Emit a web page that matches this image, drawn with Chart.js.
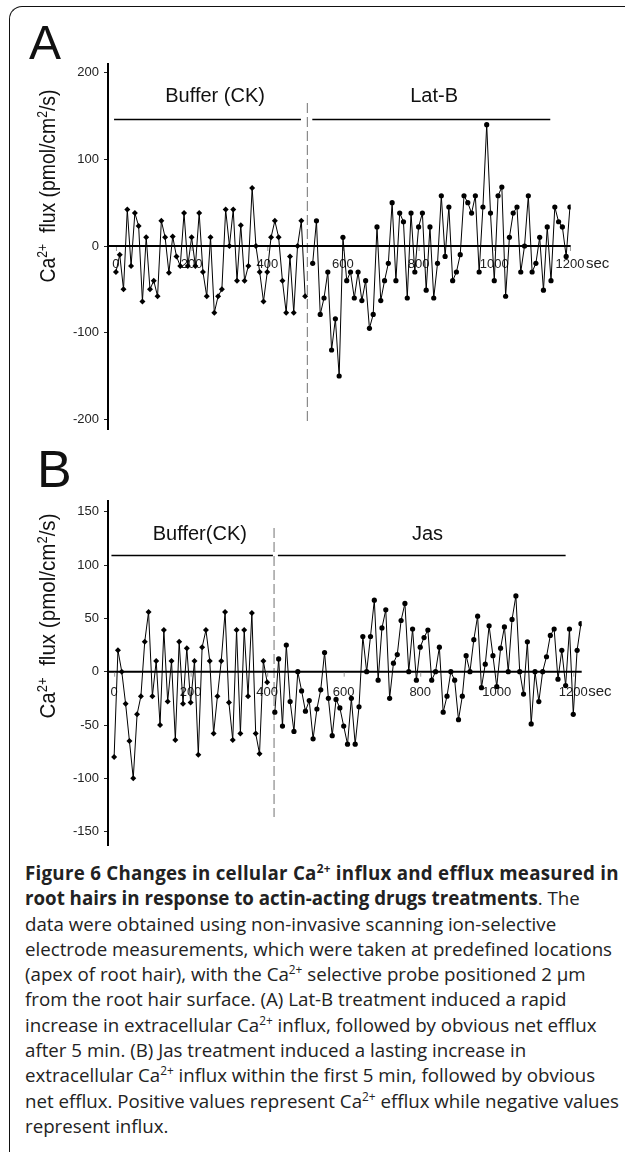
<!DOCTYPE html>
<html>
<head>
<meta charset="utf-8">
<script src="https://cdn.jsdelivr.net/npm/chart.js@4.4.1/dist/chart.umd.min.js"></script>
<style>
  html, body { margin: 0; padding: 0; background: #fff; }
  body { width: 625px; height: 1152px; position: relative; overflow: hidden; }
  .frame { position: absolute; left: 9px; top: 6px; width: 660px; height: 1200px;
           border-left: 1.5px solid #111; border-top: 1.5px solid #111; border-top-left-radius: 13px; }
  canvas { position: absolute; left: 0; }
  #caption { position: absolute; left: 25px; top: 861px; font-family: "Open Sans", sans-serif;
             font-size: 19px; line-height: 25.3px; color: #222; white-space: nowrap; transform-origin: 0 0; }
  #caption sup { font-size: 12px; line-height: 0; vertical-align: 7px; }
  #first { letter-spacing: 0.28px; }
</style>
</head>
<body>
<div class="frame"></div>
<canvas id="panelA" width="625" height="445" style="top:0"></canvas>
<canvas id="panelB" width="625" height="415" style="top:445px"></canvas>
<div id="caption">
<b id="first">Figure 6 Changes in cellular Ca<sup>2+</sup> influx and efflux measured in</b><br>
<b>root hairs in response to actin-acting drugs treatments</b>. The<br>
data were obtained using non-invasive scanning ion-selective<br>
<span id="widest">electrode measurements, which were taken at predefined locations</span><br>
(apex of root hair), with the Ca<sup>2+</sup> selective probe positioned 2 μm<br>
from the root hair surface. (A) Lat-B treatment induced a rapid<br>
increase in extracellular Ca<sup>2+</sup> influx, followed by obvious net efflux<br>
after 5 min. (B) Jas treatment induced a lasting increase in<br>
extracellular Ca<sup>2+</sup> influx within the first 5 min, followed by obvious<br>
net efflux. Positive values represent Ca<sup>2+</sup> efflux while negative values<br>
represent influx.
</div>
<script>
// sampling every 10 s, one sample skipped when the drug is added
const stepSec = 10;
const xTicks = [0, 200, 400, 600, 800, 1000, 1200];

// panel A : buffer (0-500 s) then Lat-B (520-1200 s)
const startA_buffer = 0;
const startA_latB = 520;
const fluxA_buffer = [-30, -10, -50, 42, -23, 38, 23, -64, 10, -50,
  -40, -58, 29, 10, -31, 11, -12, -23, 38, -23,
  10, -23, 38, -30, -58, 10, -77, -58, -50, 42,
  0, 42, -40, 24, -40, -23, 67, 0, -30, -64,
  -30, 10, 29, 10, -40, -77, -12, -77, 0, 29, -58];
const fluxA_latB = [-20, 29, -79, -60, -30, -120, -84, -150, 10, -40,
  -30, -60, -30, -63, -40, -95, -79, 22, -63, -40,
  -20, 50, -40, 38, 28, -60, 38, -30, 22, 38,
  -51, 22, -60, -20, 58, -12, 45, -40, -30, -10,
  58, 50, 38, 58, -30, 45, 140, 38, -40, 58,
  68, -58, 10, 38, 45, -30, 0, 58, -30, -20,
  10, -51, 22, -40, 45, 28, 22, -12, 45];
const yTicksA = [-200, -100, 0, 100, 200];

// panel B : buffer (0-400 s) then Jas (420-1220 s)
const startB_buffer = 0;
const startB_jas = 420;
const fluxB_buffer = [-80, 20, 0, -30, -65, -100, -40, -23, 28, 56,
  -23, 10, -50, 39, -28, 10, -64, 28, -30, 22,
  -29, 10, -78, 23, 39, 10, -58, -23, 10, 56,
  -29, -64, 39, -58, 39, -23, 55, -58, -77, 10, -10];
const fluxB_jas = [-38, 12, -51, 25, -28, -56, 0,
  -18, -37, -27, -63, -35, -17, 18, -25, -60, -26,
  -34, -51, -68, -25, -68, -33, 33, 0, 33, 67,
  -8, 41, 58, -25, 8, 16, 48, 64, 0, 40,
  -8, 23, 32, 39, -8, 0, 23, -38, -23, 0,
  -8, -45, -23, 15, 0, 30, 52, -15, 7, 43,
  15, -14, 22, 42, 0, 49, 71, 0, -21, 28,
  -49, 0, -28, 0, 14, 34, 40, -7, 20, -13,
  40, -40, 20, 45];
const yTicksB = [-150, -100, -50, 0, 50, 100, 150];

const toPoints = (vals, start) => vals.map((v, i) => ({ x: start + i * stepSec, y: v }));

// draws the zero axis, time labels, drug bars, dashed switch line, letter and y title
const decor = {
  id: 'decor',
  beforeDatasetsDraw(chart, args, o) {
    const { ctx, chartArea: a } = chart;
    const x = chart.scales.x, y = chart.scales.y;
    const y0 = y.getPixelForValue(0);
    ctx.save();

    // dashed line where the drug is added
    const dx = x.getPixelForValue(o.switchAt);
    ctx.setLineDash([10, 4]);
    ctx.strokeStyle = '#8a8a8a';
    ctx.lineWidth = 1.2;
    ctx.beginPath();
    ctx.moveTo(dx, y.getPixelForValue(o.dashTop));
    ctx.lineTo(dx, y.getPixelForValue(o.dashBottom));
    ctx.stroke();
    ctx.setLineDash([]);

    // x axis through zero
    ctx.strokeStyle = '#000';
    ctx.lineWidth = 2;
    ctx.beginPath();
    ctx.moveTo(a.left, y0);
    ctx.lineTo(a.right, y0);
    ctx.stroke();

    ctx.strokeStyle = '#999';
    ctx.lineWidth = 1;
    ctx.fillStyle = '#222';
    ctx.font = '13px "Liberation Sans", Arial, sans-serif';
    ctx.textAlign = 'center';
    ctx.textBaseline = 'alphabetic';
    xTicks.forEach(t => {
      const px = x.getPixelForValue(t);
      ctx.beginPath();
      ctx.moveTo(px + 0.5, y0 + 1);
      ctx.lineTo(px + 0.5, y0 + 5);
      ctx.stroke();
      ctx.fillText(String(t), px, y0 + o.labelBase);
    });
    ctx.textAlign = 'left';
    ctx.font = '15px "Liberation Sans", Arial, sans-serif';
    ctx.fillText('sec', x.getPixelForValue(1200) + o.secGap, y0 + o.labelBase);

    // treatment bars
    ctx.strokeStyle = '#000';
    ctx.lineWidth = 1.6;
    ctx.textAlign = 'center';
    ctx.textBaseline = 'middle';
    ctx.font = '20px "Liberation Sans", Arial, sans-serif';
    ctx.fillStyle = '#111';
    const by = Math.round(y.getPixelForValue(o.barY)) + 0.5;
    o.bars.forEach(b => {
      ctx.beginPath();
      ctx.moveTo(x.getPixelForValue(b.from), by);
      ctx.lineTo(x.getPixelForValue(b.to), by);
      ctx.stroke();
      ctx.fillText(b.label, x.getPixelForValue(b.labelAt), y.getPixelForValue(o.labelY));
    });

    // panel letter
    ctx.textAlign = 'left';
    ctx.textBaseline = 'alphabetic';
    ctx.font = o.letterSize + 'px "Liberation Sans", Arial, sans-serif';
    ctx.fillText(o.letter, o.letterX, o.letterY);

    // rotated y title with superscripts
    const t = o.title;
    const big = t.size + 'px "Liberation Sans", Arial, sans-serif';
    const small = Math.round(t.size * 0.62) + 'px "Liberation Sans", Arial, sans-serif';
    const parts = [['Ca', big, 0], ['2+', small, t.raise], ['  flux (pmol/cm', big, 0], ['2', small, t.raise], ['/s)', big, 0]];
    let total = 0;
    parts.forEach(p => { ctx.font = p[1]; total += ctx.measureText(p[0]).width; });
    ctx.translate(t.x, t.y);
    ctx.rotate(-Math.PI / 2);
    ctx.scale(t.len / total, 1);
    let cur = -total / 2;
    parts.forEach(p => {
      ctx.font = p[1];
      ctx.fillText(p[0], cur, -p[2]);
      cur += ctx.measureText(p[0]).width;
    });
    ctx.restore();
  }
};

function panel(id, cfg) {
  const fixedTicks = cfg.yTicks;
  return new Chart(document.getElementById(id), {
    type: 'line',
    data: {
      datasets: [
        { data: cfg.before, pointStyle: 'rectRot', pointRadius: 3 },
        { data: cfg.after, pointStyle: 'circle', pointRadius: 2.6 }
      ]
    },
    options: {
      responsive: false,
      animation: false,
      devicePixelRatio: 1,
      layout: { padding: cfg.padding },
      elements: {
        line: { borderColor: '#000', borderWidth: 1, tension: 0 },
        point: { backgroundColor: '#000', borderColor: '#000', borderWidth: 0, hoverRadius: 3 }
      },
      scales: {
        x: { type: 'linear', display: false, min: cfg.xMin, max: cfg.xMax },
        y: {
          min: cfg.yMin, max: cfg.yMax,
          afterFit: s => { s.width = 108; },
          afterBuildTicks: s => { s.ticks = fixedTicks.map(v => ({ value: v })); },
          border: { display: true, color: '#000', width: 2 },
          grid: { drawOnChartArea: false, color: '#222', lineWidth: 1, tickLength: 4 },
          ticks: { color: '#222', padding: 5, font: { family: '"Liberation Sans", Arial, sans-serif', size: 13 } }
        }
      },
      plugins: { legend: { display: false }, tooltip: { enabled: false }, decor: cfg.decor }
    },
    plugins: [decor]
  });
}

panel('panelA', {
  before: toPoints(fluxA_buffer, startA_buffer),
  after: toPoints(fluxA_latB, startA_latB),
  yTicks: yTicksA,
  xMin: -21, xMax: 1202, yMin: -211.5, yMax: 210,
  padding: { left: 0, right: 54.3, top: 64, bottom: 15.7 },
  decor: {
    switchAt: 506, dashTop: 165, dashBottom: -202.5,
    labelBase: 22, secGap: 16,
    barY: 146.5, labelY: 172,
    bars: [
      { label: 'Buffer (CK)', from: -5, to: 489, labelAt: 262 },
      { label: 'Lat-B', from: 519, to: 1148, labelAt: 841 }
    ],
    letter: 'A', letterSize: 48, letterX: 29, letterY: 59,
    title: { x: 55, y: 186, len: 193, size: 22, raise: 8 }
  }
});

panel('panelB', {
  before: toPoints(fluxB_buffer, startB_buffer),
  after: toPoints(fluxB_jas, startB_jas),
  yTicks: yTicksB,
  xMin: -16, xMax: 1222, yMin: -162.5, yMax: 160.3,
  padding: { left: 0, right: 43.3, top: 55.7, bottom: 15 },
  decor: {
    switchAt: 418, dashTop: 134.7, dashBottom: -136.2,
    labelBase: 24, secGap: 15,
    barY: 109.7, labelY: 129,
    bars: [
      { label: 'Buffer(CK)', from: -7, to: 415, labelAt: 224 },
      { label: 'Jas', from: 428, to: 1180, labelAt: 819 }
    ],
    letter: 'B', letterSize: 52, letterX: 37, letterY: 42,
    title: { x: 55, y: 171, len: 205, size: 22, raise: 8 }
  }
});

// squeeze the caption to the width of the printed lines
const cap = document.getElementById('caption');
const w = document.getElementById('widest').getBoundingClientRect().width;
cap.style.transform = 'scaleX(' + (587 / w).toFixed(4) + ')';
</script>
</body>
</html>
